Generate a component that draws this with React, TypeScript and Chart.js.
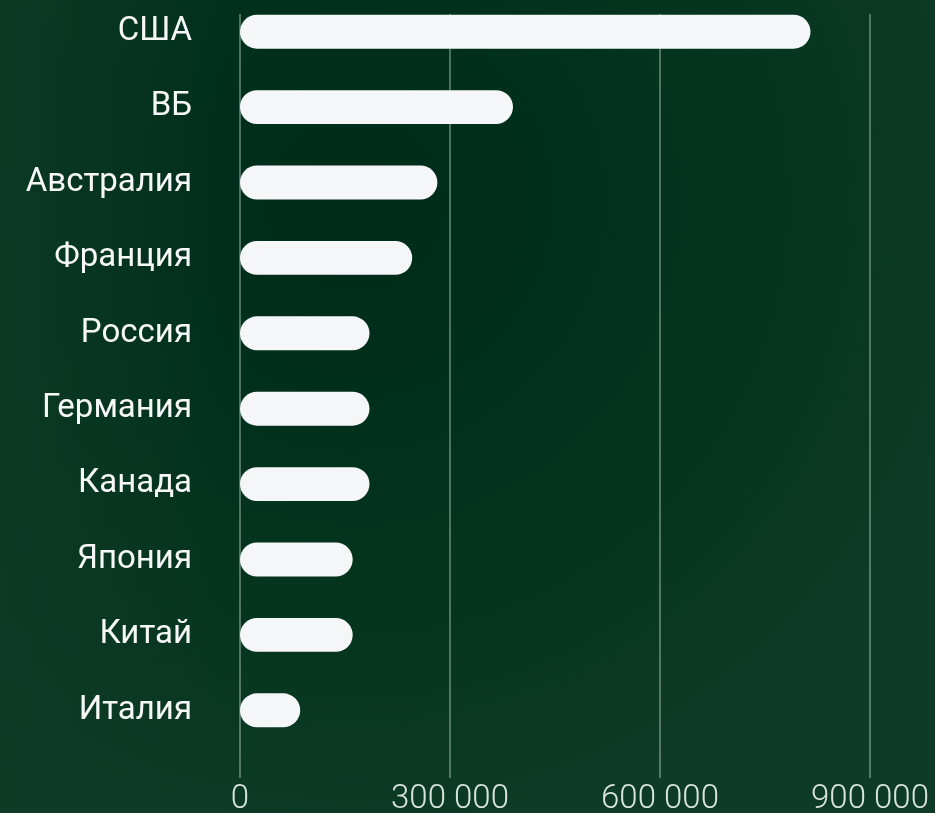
import React, { useEffect, useRef } from "react";
import { Chart, registerables } from "chart.js";

Chart.register(...registerables);

const countries = ["США", "ВБ", "Австралия", "Франция", "Россия", "Германия", "Канада", "Япония", "Китай", "Италия"];
const values = [815000, 390000, 282000, 246000, 185000, 185000, 185000, 161000, 161000, 86000];
const xTickValues = [0, 300000, 600000, 900000];

const formatNumber = (v: number) => String(v).replace(/\B(?=(\d{3})+(?!\d))/g, " ");

const gridPlugin = {
  id: "customGrid",
  beforeDatasetsDraw(chart: any) {
    const { ctx, chartArea, scales } = chart;
    const xs = scales.x;
    ctx.save();
    ctx.strokeStyle = "rgba(190,212,200,0.55)";
    ctx.lineWidth = 1.5;
    xTickValues.forEach((v) => {
      const px = xs.getPixelForValue(v);
      ctx.beginPath();
      ctx.moveTo(px, chartArea.top + 20);
      ctx.lineTo(px, chartArea.bottom + 30);
      ctx.stroke();
    });
    ctx.restore();
  },
};

export default function App() {
  const ref = useRef<HTMLCanvasElement | null>(null);

  useEffect(() => {
    document.body.style.margin = "0";
    document.body.style.background = "#03311f";
    if (!ref.current) return;
    const chart = new Chart(ref.current, {
      type: "bar",
      data: {
        labels: countries,
        datasets: [
          {
            data: values,
            backgroundColor: "#f5f6f8",
            borderRadius: 17,
            borderSkipped: false,
            barPercentage: 0.45,
            categoryPercentage: 1,
          },
        ],
      },
      options: {
        indexAxis: "y",
        animation: false,
        responsive: false,
        layout: { padding: { top: 14, right: 65, bottom: 0, left: 0 } },
        plugins: {
          legend: { display: false },
          tooltip: { enabled: false },
        },
        scales: {
          x: {
            min: 0,
            max: 900000,
            grid: { display: false, drawTicks: false },
            border: { display: false },
            afterFit: (scale: any) => {
              scale.height = 68;
              scale.paddingLeft = 0;
              scale.paddingRight = 0;
            },
            ticks: {
              stepSize: 300000,
              padding: 32,
              color: "#d8e4dd",
              font: { family: "Roboto", size: 33, weight: "300" },
              callback: (v: any) => formatNumber(Number(v)),
            },
          },
          y: {
            grid: { display: false, drawTicks: false },
            border: { display: false },
            afterFit: (scale: any) => {
              scale.width = 240;
              scale.paddingTop = 0;
              scale.paddingBottom = 0;
            },
            ticks: {
              padding: 48,
              color: "#f6f7f7",
              font: { family: "Roboto", size: 33, weight: "400" },
            },
          },
        },
      },
      plugins: [gridPlugin],
    });
    return () => chart.destroy();
  }, []);

  return (
    <div
      style={{
        position: "relative",
        width: 935,
        height: 813,
        overflow: "hidden",
        background:
          "radial-gradient(ellipse 70% 80% at 38% 25%, #002c1a 0%, #01301d 35%, #06351f 65%, #0d3b27 100%), #03311f",
      }}
    >
      <div
        style={{
          position: "absolute",
          inset: 0,
          background: "linear-gradient(90deg, rgba(14,58,38,0.75) 0%, rgba(14,58,38,0) 24%)",
        }}
      />
      <canvas
        ref={ref}
        width={935}
        height={836}
        style={{ position: "absolute", left: 0, top: -20, width: 935, height: 836 }}
      />
    </div>
  );
}
